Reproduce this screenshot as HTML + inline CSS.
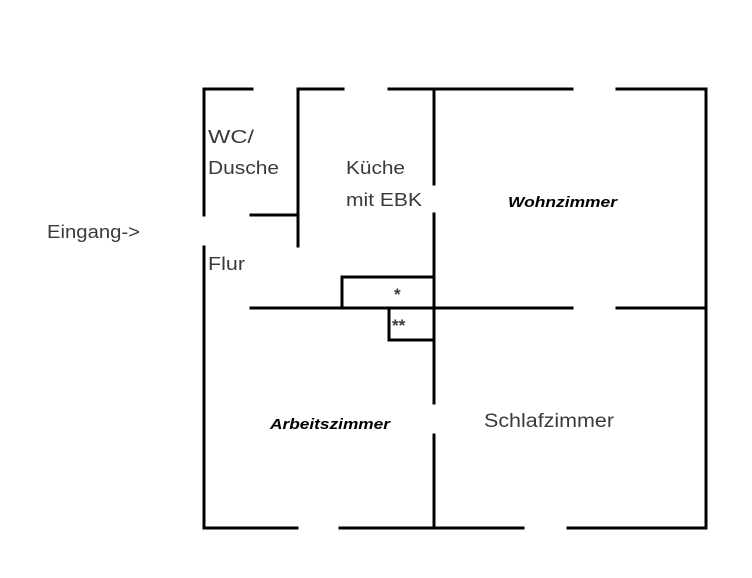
<!DOCTYPE html>
<html><head><style>
body{margin:0;background:#fff;width:752px;height:573px;overflow:hidden}
svg text{font-family:"Liberation Sans",sans-serif;fill:#3a3a3a}
</style></head><body>
<svg width="752" height="573" viewBox="0 0 752 573">
<g stroke="#000" stroke-width="3" fill="none" stroke-linecap="square">
<path d="M252 89H204V215"/>
<path d="M204 247V528H297"/>
<path d="M343 89H298V246"/>
<path d="M251 215H298"/>
<path d="M389 89H572"/>
<path d="M617 89H706V528H568"/>
<path d="M523 528H340"/>
<path d="M434 89V184"/>
<path d="M434 214V403"/>
<path d="M434 435V528"/>
<path d="M251 308H572"/>
<path d="M617 308H706"/>
<path d="M342 308V277H434"/>
<path d="M389 308V340H434"/>
</g>
<text x="47" y="238" font-size="18" textLength="93" lengthAdjust="spacingAndGlyphs">Eingang-&gt;</text>
<text x="208" y="143" font-size="18" textLength="46" lengthAdjust="spacingAndGlyphs">WC/</text>
<text x="208" y="174" font-size="18" textLength="71" lengthAdjust="spacingAndGlyphs">Dusche</text>
<text x="346" y="174" font-size="18" textLength="59" lengthAdjust="spacingAndGlyphs">Küche</text>
<text x="346" y="206" font-size="18" textLength="76" lengthAdjust="spacingAndGlyphs">mit EBK</text>
<text x="508" y="207" font-size="15" font-weight="bold" font-style="italic" style="fill:#000" textLength="109" lengthAdjust="spacingAndGlyphs">Wohnzimmer</text>
<text x="208" y="270" font-size="18" textLength="37" lengthAdjust="spacingAndGlyphs">Flur</text>
<text x="394" y="300" font-size="17" font-weight="bold">*</text>
<text x="392" y="331" font-size="17" font-weight="bold">**</text>
<text x="270" y="429" font-size="15" font-weight="bold" font-style="italic" style="fill:#000" textLength="120" lengthAdjust="spacingAndGlyphs">Arbeitszimmer</text>
<text x="484" y="427" font-size="19" textLength="130" lengthAdjust="spacingAndGlyphs">Schlafzimmer</text>
</svg>
</body></html>
